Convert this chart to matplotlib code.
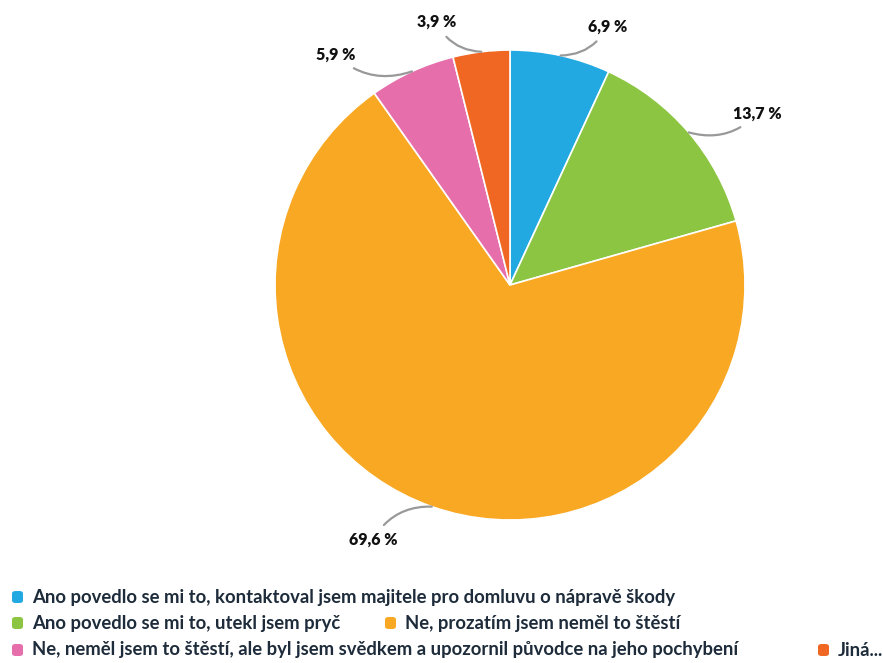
import numpy as np
import matplotlib.pyplot as plt
from matplotlib.patches import FancyBboxPatch

# --- data ---
categories = [
    "Ano povedlo se mi to, kontaktoval jsem majitele pro domluvu o nápravě škody",
    "Ano povedlo se mi to, utekl jsem pryč",
    "Ne, prozatím jsem neměl to štěstí",
    "Ne, neměl jsem to štěstí, ale byl jsem svědkem a upozornil původce na jeho pochybení",
    "Jiná...",
]
values = [6.9, 13.7, 69.6, 5.9, 3.9]
labels = ["6,9 %", "13,7 %", "69,6 %", "5,9 %", "3,9 %"]
colors = ["#22a9e1", "#8bc541", "#f9a823", "#e56eab", "#f06724"]

plt.rcParams['font.family'] = ['Lato', 'DejaVu Sans']

W, H = 883, 663
fig = plt.figure(figsize=(W / 100, H / 100), dpi=100)

# pie axes: centre (510, 285) px, radius 235 px
cx, cy, r = 510, 285, 235
ax = fig.add_axes([(cx - r) / W, (H - cy - r) / H, 2 * r / W, 2 * r / H])
wedges, _ = ax.pie(values, colors=colors, startangle=90, counterclock=False,
                   radius=1, wedgeprops=dict(edgecolor="white", linewidth=1.2))
ax.set_xlim(-1, 1)
ax.set_ylim(-1, 1)
ax.set_aspect("equal")
ax.axis("off")

# label positions (data units) and connector curvature
text_pos = [(0.33, 1.10), (0.95, 0.73), (-0.48, -1.085), (-0.66, 0.98), (-0.23, 1.12)]
aligns = ["left", "left", "right", "right", "right"]
rads = [-0.3, -0.3, -0.3, 0.3, 0.3]

start = 90.0
for v, lab, tp, ha, rad in zip(values, labels, text_pos, aligns, rads):
    mid = start - v * 3.6 / 2
    start -= v * 3.6
    a = np.deg2rad(mid)
    xy = (np.cos(a), np.sin(a))
    ax.annotate(lab, xy=xy, xytext=tp, ha=ha, va="center",
                fontsize=11.5, fontweight="heavy", color="#111111",
                annotation_clip=False,
                arrowprops=dict(arrowstyle="-", color="#999999", lw=1.6,
                                shrinkA=4, shrinkB=0,
                                connectionstyle=f"arc3,rad={rad}"))

# legend, laid out like the original flow layout
legend_pos = [(12, 597), (12, 623), (385, 623), (12, 650), (818, 650)]
for (px, py), col, cat in zip(legend_pos, colors, categories):
    box = FancyBboxPatch((px / W, (H - py - 6) / H), 11 / W, 12 / H,
                         boxstyle="round,pad=0,rounding_size=0.004",
                         transform=fig.transFigure, facecolor=col,
                         edgecolor="none")
    fig.patches.append(box)
    fig.text((px + 20) / W, (H - py) / H, cat, ha="left", va="center",
             fontsize=13.3, fontweight="bold", color="#1d2b3a")

fig.savefig("out.png", dpi=100)
